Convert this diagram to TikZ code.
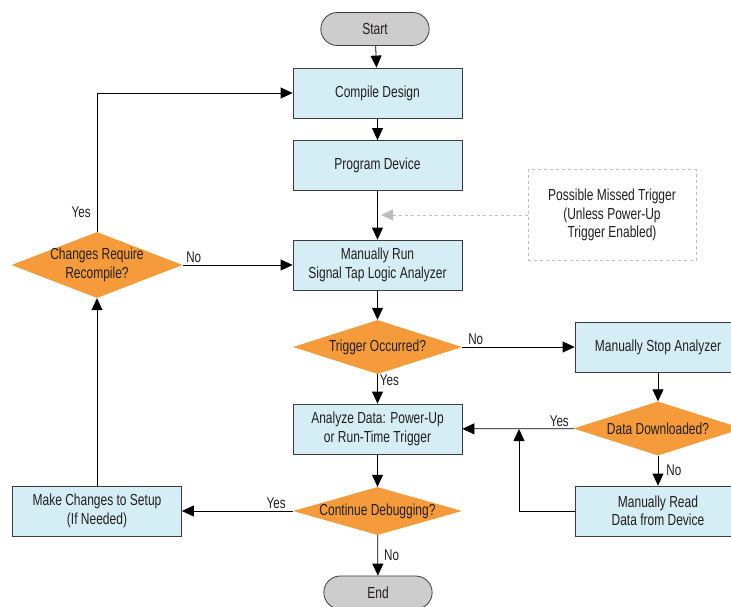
\documentclass[tikz,border=0pt]{standalone}
\usepackage{fontspec}
\setmainfont{Liberation Sans}[FakeStretch=0.75]
\usetikzlibrary{arrows.meta,shapes.geometric,shapes.misc}
\definecolor{boxblue}{HTML}{D5EDF4}
\definecolor{decorange}{HTML}{F59B3B}
\definecolor{pillgray}{HTML}{CDCDCD}
\definecolor{edgegray}{HTML}{3C3C3C}
\definecolor{notegray}{HTML}{BDBDBD}
\definecolor{txt}{HTML}{231F20}

\begin{document}
\begin{tikzpicture}[x=1pt, y=-1pt, >={Triangle[length=12pt,width=11pt]},
    every node/.style={font=\fontsize{16}{18.5}\selectfont, text=txt},
    proc/.style={draw=edgegray, fill=boxblue, line width=0.8pt, minimum width=169pt, minimum height=50pt, align=center, inner sep=2pt},
    dec/.style={diamond, fill=decorange, aspect=3, inner sep=-5pt, minimum width=169pt, minimum height=54pt, align=center},
    term/.style={rounded rectangle, draw=edgegray, fill=pillgray, line width=0.8pt, minimum width=115pt, minimum height=33pt},
    flow/.style={draw=black, line width=0.8pt, ->},
    lbl/.style={font=\fontsize{15.5}{18}\selectfont, inner sep=2pt}]
    \useasboundingbox (0,0) rectangle (731,606);

    % main column
    \node[term] (start) at (375,29) {Start};
    \node[proc] (compile) at (377.5,93) {Compile Design};
    \node[proc] (program) at (377.5,165.5) {Program Device};
    \node[proc] (run) at (377.5,265) {Manually Run\\Signal Tap Logic Analyzer};
    \node[dec] (trig) at (377.5,347) {Trigger Occurred?};
    \node[proc] (analyze) at (377.5,429) {Analyze Data: Power-Up\\or Run-Time Trigger};
    \node[dec, minimum height=48pt] (cont) at (377.5,511) {Continue Debugging?};
    \node[term] (end) at (378,592.5) {End};

    % right column
    \node[proc, minimum width=166pt] (stop) at (658,347) {Manually Stop Analyzer};
    \node[dec] (dl) at (658,428.5) {Data Downloaded?};
    \node[proc, minimum width=166pt] (read) at (658,511) {Manually Read\\Data from Device};
    \coordinate (jn) at (519,429);

    % left column
    \node[dec, minimum width=171pt, minimum height=66pt] (recomp) at (97,265) {Changes Require\\Recompile?};
    \node[proc] (changes) at (97,511) {Make Changes to Setup\\(If Needed)};

    % note
    \node[draw=notegray, dashed, line width=0.8pt, minimum width=168pt, minimum height=91pt, align=center] (note) at (612,215) {Possible Missed Trigger\\(Unless Power-Up\\Trigger Enabled)};
    \coordinate (tapmark) at (381,215);

    \draw[flow] (start) -- (compile);
    \draw[flow] (compile) -- (program);
    \draw[flow] (program) -- (run);
    \draw[flow] (run) -- (trig);
    \draw[flow] (trig) -- node[lbl, pos=0.12, above] {No} (stop);
    \draw[flow] (trig) -- node[lbl, pos=0.2, right] {Yes} (analyze);
    \draw[flow] (stop) -- (dl);
    \draw[flow] (dl) -- node[lbl, pos=0.13, above] {Yes} (analyze);
    \draw[flow] (dl) -- node[lbl, midway, right=6pt] {No} (read);
    \draw[flow] (read.west) -| (jn);
    \draw[flow] (analyze) -- (cont);
    \draw[flow] (cont) -- node[lbl, pos=0.15, above] {Yes} (changes);
    \draw[flow] (cont) -- node[lbl, midway, right=4pt] {No} (end);
    \draw[flow] (changes) -- (recomp);
    \draw[flow] (recomp.north) |- node[lbl, pos=0.07, left=4pt] {Yes} (compile.west);
    \draw[flow] (recomp) -- node[lbl, pos=0.1, above] {No} (run);
    \draw[notegray, dashed, line width=0.8pt, -{Triangle[length=12pt,width=11pt]}] (note.west) -- (tapmark);
\end{tikzpicture}
\end{document}
